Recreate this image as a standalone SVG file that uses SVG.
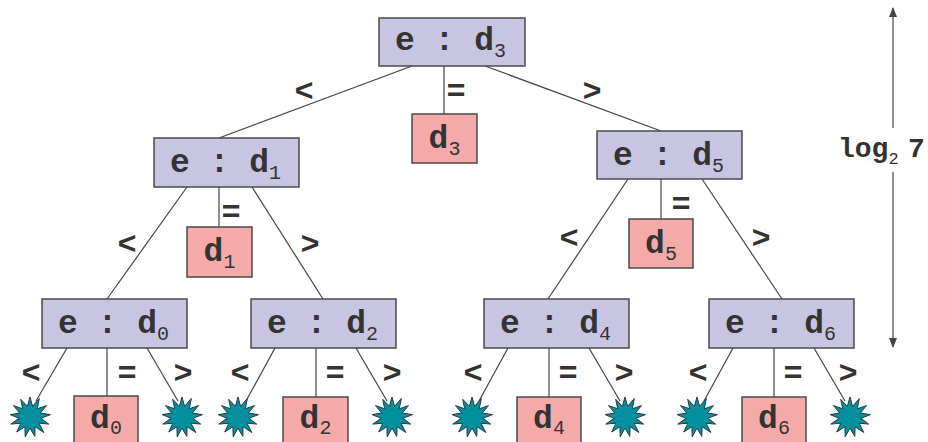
<svg xmlns="http://www.w3.org/2000/svg" xmlns:xlink="http://www.w3.org/1999/xlink" width="928" height="442" viewBox="0 0 928 442">
<style>
.node{fill:#c8c5e3;stroke:#4a4a4a;stroke-width:1.5}
.val{fill:#f5aaaa;stroke:#4a4a4a;stroke-width:1.5}
.t{font-family:"Liberation Mono","Courier New",monospace;font-weight:bold;font-size:33px;fill:#333}
.vt{font-family:"Liberation Mono","Courier New",monospace;font-weight:bold;font-size:33px;fill:#333;text-anchor:middle}
.sub{font-weight:normal;font-size:20px}
.lab{font-family:"Liberation Mono","Courier New",monospace;font-weight:bold;font-size:32px;fill:#333;text-anchor:middle}
.edge{stroke:#444;stroke-width:1.2;fill:none}
.star{fill:#00909e;stroke:#2a3a3c;stroke-width:1}
</style>
<defs>
<polygon id="burst" class="star" points="0,-20 2.6,-10.7 9.3,-18.5 7.3,-8.2 16.5,-11.4 10.3,-3.9 20.5,-2.4 10.9,1.3 18.7,7.1 9.1,6.2 13.8,15.5 5.1,9.7 4.8,19.4 0,11 -4.8,19.8 -5.1,9.7 -13.3,15.0 -9.1,6.2 -19.2,7.1 -10.9,1.3 -19.9,-2.4 -10.3,-3.9 -16.5,-11.4 -7.3,-8.2 -9.3,-17.7 -2.6,-10.7"/>
<marker id="ah" markerWidth="10" markerHeight="10" refX="9" refY="4" orient="auto" markerUnits="userSpaceOnUse">
<path d="M0,0 L10,4 L0,8 Z" fill="#444"/>
</marker>
</defs>

<g id="connectors">
<line class="edge" x1="412" y1="66" x2="219" y2="138"/>
<line class="edge" x1="485" y1="66" x2="661" y2="131"/>
<line class="edge" x1="444" y1="66" x2="444" y2="114"/>
<line class="edge" x1="187" y1="187" x2="107" y2="299"/>
<line class="edge" x1="252" y1="187" x2="323" y2="299"/>
<line class="edge" x1="219" y1="187" x2="219" y2="227"/>
<line class="edge" x1="628" y1="179" x2="548" y2="299"/>
<line class="edge" x1="702" y1="179" x2="782" y2="299"/>
<line class="edge" x1="661" y1="179" x2="661" y2="219"/>
<line class="edge" x1="67" y1="348" x2="36" y2="401"/>
<line class="edge" x1="147" y1="348" x2="178" y2="401"/>
<line class="edge" x1="107" y1="348" x2="107" y2="396"/>
<line class="edge" x1="275" y1="348" x2="246" y2="401"/>
<line class="edge" x1="356" y1="348" x2="387" y2="401"/>
<line class="edge" x1="316" y1="348" x2="316" y2="397"/>
<line class="edge" x1="508" y1="348" x2="479" y2="401"/>
<line class="edge" x1="589" y1="348" x2="620" y2="401"/>
<line class="edge" x1="549" y1="348" x2="549" y2="397"/>
<line class="edge" x1="733" y1="348" x2="704" y2="401"/>
<line class="edge" x1="814" y1="348" x2="845" y2="401"/>
<line class="edge" x1="774" y1="348" x2="774" y2="397"/>
<line class="edge" x1="893" y1="128" x2="893" y2="8" marker-end="url(#ah)"/>
<line class="edge" x1="893" y1="172" x2="893" y2="347" marker-end="url(#ah)"/>
</g>

<g id="edge-labels">
<text class="lab" x="304" y="101">&lt;</text>
<text class="lab" x="456" y="101">=</text>
<text class="lab" x="592" y="101">&gt;</text>
<text class="lab" x="127" y="254">&lt;</text>
<text class="lab" x="231" y="222">=</text>
<text class="lab" x="310" y="254">&gt;</text>
<text class="lab" x="569" y="248">&lt;</text>
<text class="lab" x="681" y="214">=</text>
<text class="lab" x="761" y="248">&gt;</text>
<text class="lab" x="31" y="383">&lt;</text>
<text class="lab" x="127" y="383">=</text>
<text class="lab" x="183" y="383">&gt;</text>
<text class="lab" x="240" y="383">&lt;</text>
<text class="lab" x="335" y="383">=</text>
<text class="lab" x="392" y="383">&gt;</text>
<text class="lab" x="473" y="383">&lt;</text>
<text class="lab" x="568" y="383">=</text>
<text class="lab" x="624" y="383">&gt;</text>
<text class="lab" x="698" y="383">&lt;</text>
<text class="lab" x="793" y="383">=</text>
<text class="lab" x="848" y="383">&gt;</text>
</g>

<g id="n-root"><rect class="node" x="379" y="18" width="146" height="48"/><text class="t" x="395" y="50">e : d<tspan class="sub" dy="7">3</tspan></text></g>
<g id="v-d3"><rect class="val" x="412" y="114" width="65" height="49"/><text class="vt" x="444.5" y="148">d<tspan class="sub" dy="7">3</tspan></text></g>

<g id="n-d1"><rect class="node" x="154" y="138" width="145" height="49"/><text class="t" x="170" y="172">e : d<tspan class="sub" dy="7">1</tspan></text></g>
<g id="v-d1"><rect class="val" x="187" y="227" width="65" height="50"/><text class="vt" x="219.5" y="261">d<tspan class="sub" dy="7">1</tspan></text></g>

<g id="n-d5"><rect class="node" x="597" y="131" width="145" height="48"/><text class="t" x="613" y="165">e : d<tspan class="sub" dy="7">5</tspan></text></g>
<g id="v-d5"><rect class="val" x="629" y="219" width="64" height="49"/><text class="vt" x="661" y="253">d<tspan class="sub" dy="7">5</tspan></text></g>

<g id="n-d0"><rect class="node" x="42" y="299" width="145" height="49"/><text class="t" x="58" y="333">e : d<tspan class="sub" dy="7">0</tspan></text></g>
<g id="v-d0"><rect class="val" x="74" y="396" width="64" height="49"/><text class="vt" x="106" y="428">d<tspan class="sub" dy="6">0</tspan></text></g>

<g id="n-d2"><rect class="node" x="251" y="299" width="145" height="49"/><text class="t" x="267" y="333">e : d<tspan class="sub" dy="7">2</tspan></text></g>
<g id="v-d2"><rect class="val" x="283" y="397" width="65" height="49"/><text class="vt" x="315.5" y="428">d<tspan class="sub" dy="6">2</tspan></text></g>

<g id="n-d4"><rect class="node" x="484" y="299" width="145" height="49"/><text class="t" x="500" y="333">e : d<tspan class="sub" dy="7">4</tspan></text></g>
<g id="v-d4"><rect class="val" x="517" y="397" width="64" height="49"/><text class="vt" x="549" y="428">d<tspan class="sub" dy="6">4</tspan></text></g>

<g id="n-d6"><rect class="node" x="709" y="299" width="145" height="49"/><text class="t" x="725" y="333">e : d<tspan class="sub" dy="7">6</tspan></text></g>
<g id="v-d6"><rect class="val" x="742" y="397" width="64" height="49"/><text class="vt" x="774" y="428">d<tspan class="sub" dy="6">6</tspan></text></g>

<g id="leaf-1"><use xlink:href="#burst" href="#burst" x="30" y="417"/></g>
<g id="leaf-2"><use xlink:href="#burst" href="#burst" x="182" y="417"/></g>
<g id="leaf-3"><use xlink:href="#burst" href="#burst" x="238" y="417"/></g>
<g id="leaf-4"><use xlink:href="#burst" href="#burst" x="392" y="417"/></g>
<g id="leaf-5"><use xlink:href="#burst" href="#burst" x="472" y="417"/></g>
<g id="leaf-6"><use xlink:href="#burst" href="#burst" x="625" y="417"/></g>
<g id="leaf-7"><use xlink:href="#burst" href="#burst" x="697" y="417"/></g>
<g id="leaf-8"><use xlink:href="#burst" href="#burst" x="850" y="417"/></g>

<g id="height-label"><text class="t" style="font-size:28px" x="838" y="157">log<tspan class="sub" style="font-size:17px" dy="7">2</tspan><tspan x="908" y="157">7</tspan></text></g>
</svg>
